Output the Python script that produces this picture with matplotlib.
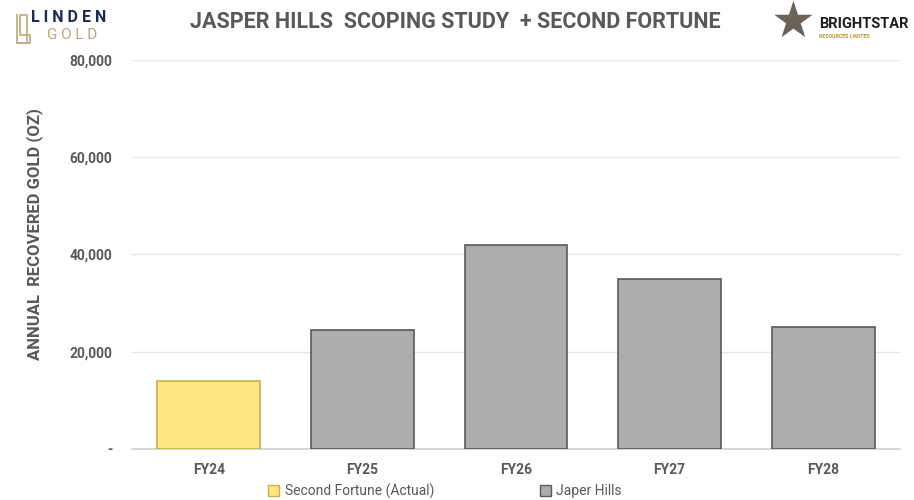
import numpy as np
import matplotlib
matplotlib.use("Agg")
import matplotlib.pyplot as plt
from matplotlib.lines import Line2D
from matplotlib.patches import Patch

plt.rcParams['font.family'] = ['Roboto', 'DejaVu Sans']

years = ["FY24", "FY25", "FY26", "FY27", "FY28"]
gold_oz = [14000, 24500, 42000, 35000, 25100]
series = ["Second Fortune (Actual)", "Japer Hills", "Japer Hills", "Japer Hills", "Japer Hills"]
yticks = [0, 20000, 40000, 60000, 80000]
ytick_labels = ["-", "20,000", "40,000", "60,000", "80,000"]

face = {"Second Fortune (Actual)": "#FFE680", "Japer Hills": "#ADADAD"}
edge = {"Second Fortune (Actual)": "#C8B14A", "Japer Hills": "#5A5A5A"}
txt = "#595959"

fig = plt.figure(figsize=(9.14, 5.0), dpi=100)
ax = fig.add_axes([0.1444, 0.102, 0.8403, 0.778])

x = np.arange(len(years))
ax.bar(x, gold_oz, width=0.67,
       color=[face[s] for s in series],
       edgecolor=[edge[s] for s in series], linewidth=1.2, zorder=3)

ax.set_xlim(-0.5, len(years) - 0.5)
ax.set_ylim(0, 80000)
ax.set_yticks(yticks)
ax.set_yticklabels(ytick_labels)
ax.set_xticks(x)
ax.set_xticklabels(years)
ax.grid(axis='y', color='#E6E6E6', linewidth=1, zorder=0)
for s in ['top', 'right', 'left']:
    ax.spines[s].set_visible(False)
ax.spines['bottom'].set_color('#D0D0D0')
ax.spines['bottom'].set_linewidth(1.2)
ax.tick_params(axis='both', length=0, colors=txt, labelsize=10)
ax.tick_params(axis='y', pad=14)
ax.tick_params(axis='x', pad=10)
for lab in ax.get_xticklabels() + ax.get_yticklabels():
    lab.set_fontweight('bold')

fig.text(0.038, 0.532, "ANNUAL  RECOVERED GOLD (OZ)", rotation=90, ha='center', va='center',
         fontsize=12, fontweight='bold', color=txt)

fig.text(0.498, 0.955, "JASPER HILLS  SCOPING STUDY  + SECOND FORTUNE", ha='center', va='center',
         fontsize=15.5, fontweight='bold', color=txt)

handles = [Patch(facecolor=face["Second Fortune (Actual)"], edgecolor=edge["Second Fortune (Actual)"]),
           Patch(facecolor=face["Japer Hills"], edgecolor=edge["Japer Hills"])]
fig.legend(handles, ["Second Fortune (Actual)", "Japer Hills"], loc='center',
           bbox_to_anchor=(0.487, 0.018), ncol=2, frameon=False, fontsize=10,
           handlelength=0.8, handleheight=0.8, handletextpad=0.4, columnspacing=7.6,
           labelcolor=txt)

# Linden Gold logo
fig.add_artist(Line2D([0.019, 0.019, 0.030, 0.030, 0.022, 0.022, 0.033, 0.033, 0.019],
                      [0.97, 0.915, 0.915, 0.97, 0.97, 0.93, 0.93, 0.915, 0.915],
                      color='#BFAE86', linewidth=1.3))
fig.text(0.034, 0.966, "L I N D E N", fontsize=11.5, fontweight='bold', color='#1F2B4D',
         va='center', ha='left')
fig.text(0.051, 0.930, "G O L D", fontsize=11, color='#B8A57A', va='center', ha='left')

# Brightstar logo
fig.text(0.868, 0.955, "\u2605", fontsize=36, color='#6B625A', ha='center', va='center',
         family='DejaVu Sans')
fig.text(0.896, 0.953, "BRIGHTSTAR", fontsize=10.5, fontweight='bold', color='#1E1E1E',
         ha='left', va='center')
fig.text(0.896, 0.926, "RESOURCES LIMITED", fontsize=3.8, fontweight='bold', color='#B8962E',
         ha='left', va='center')

fig.savefig("out.png", dpi=100)
